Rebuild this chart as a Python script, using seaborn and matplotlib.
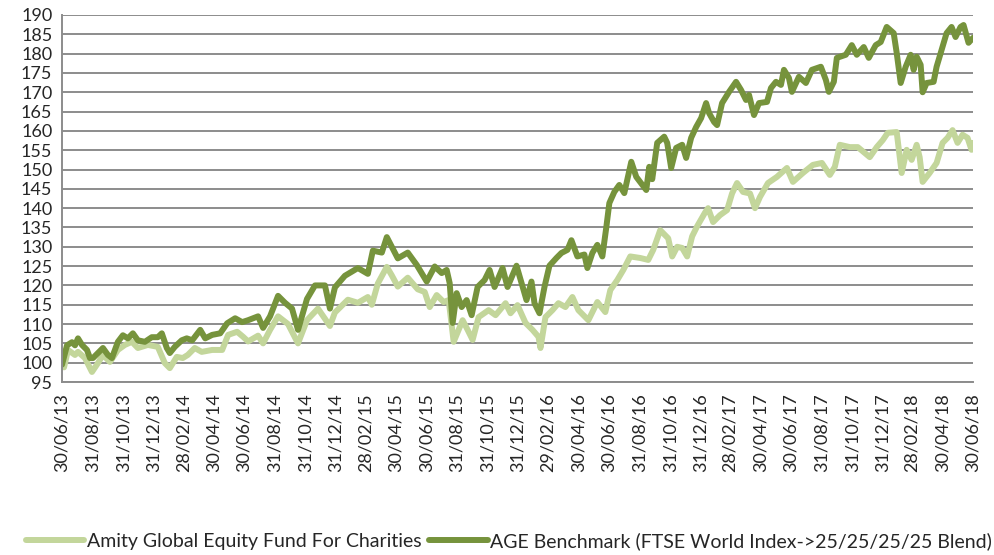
import pandas as pd
import matplotlib
matplotlib.use("Agg")
import matplotlib.pyplot as plt
import matplotlib.dates as mdates
import seaborn as sns

# Amity Global Equity Fund For Charities (rebased to 100)
fund_dates = [
    "2013-06-30", "2013-07-04", "2013-07-12", "2013-07-26", "2013-08-01", "2013-08-15",
    "2013-08-25", "2013-08-29", "2013-09-10", "2013-09-20", "2013-10-04", "2013-10-20",
    "2013-11-03", "2013-11-17", "2013-11-29", "2013-12-19", "2014-01-08", "2014-01-22",
    "2014-02-01", "2014-02-15", "2014-02-27", "2014-03-09", "2014-03-23", "2014-04-06",
    "2014-04-27", "2014-05-17", "2014-05-29", "2014-06-16", "2014-06-28", "2014-07-08",
    "2014-07-28", "2014-08-07", "2014-08-21", "2014-09-06", "2014-09-26", "2014-10-16",
    "2014-11-03", "2014-11-25", "2014-12-19", "2014-12-29", "2015-01-24", "2015-02-13",
    "2015-03-05", "2015-03-13", "2015-03-25", "2015-04-12", "2015-04-22", "2015-05-04",
    "2015-05-24", "2015-06-13", "2015-06-27", "2015-07-07", "2015-07-21", "2015-08-04",
    "2015-08-14", "2015-08-24", "2015-09-11", "2015-09-21", "2015-10-01", "2015-10-13",
    "2015-11-02", "2015-11-16", "2015-12-06", "2015-12-16", "2015-12-30", "2016-01-15",
    "2016-01-29", "2016-02-10", "2016-02-14", "2016-02-24", "2016-03-09", "2016-03-21",
    "2016-04-04", "2016-04-18", "2016-04-30", "2016-05-20", "2016-06-07", "2016-06-23",
    "2016-07-03", "2016-07-17", "2016-07-29", "2016-08-12", "2016-09-01", "2016-09-17",
    "2016-09-27", "2016-10-11", "2016-10-27", "2016-11-04", "2016-11-14", "2016-11-24",
    "2016-12-04", "2016-12-14", "2016-12-24", "2017-01-09", "2017-01-15", "2017-01-25",
    "2017-02-08", "2017-02-22", "2017-03-04", "2017-03-14", "2017-03-26", "2017-04-09",
    "2017-04-19", "2017-04-29", "2017-05-15", "2017-06-02", "2017-06-22", "2017-07-04",
    "2017-07-24", "2017-08-13", "2017-08-31", "2017-09-16", "2017-09-26", "2017-10-06",
    "2017-10-26", "2017-11-11", "2017-12-05", "2017-12-19", "2017-12-31", "2018-01-10",
    "2018-01-28", "2018-02-07", "2018-02-17", "2018-02-27", "2018-03-09", "2018-03-15",
    "2018-03-21", "2018-04-04", "2018-04-18", "2018-04-30", "2018-05-10", "2018-05-20",
    "2018-05-30", "2018-06-09", "2018-06-19", "2018-06-27", "2018-06-30",
]
fund_values = [
    99.0, 98.8, 103.3, 102.0, 102.8, 101.2,
    98.6, 97.6, 99.9, 102.0, 100.2, 103.3,
    104.6, 105.4, 103.8, 104.6, 104.1, 99.9,
    98.6, 101.5, 101.2, 102.0, 103.8, 102.8,
    103.3, 103.3, 107.2, 108.0, 106.7, 105.5,
    107.0, 105.0, 108.5, 112.0, 110.0, 105.0,
    111.0, 114.0, 109.5, 113.0, 116.3, 115.5,
    117.0, 115.0, 120.5, 124.8, 122.6, 119.7,
    122.0, 119.0, 118.3, 114.4, 117.5, 115.7,
    116.2, 105.4, 111.0, 108.5, 105.9, 111.8,
    113.6, 112.3, 115.4, 112.8, 114.9, 110.3,
    108.5, 106.7, 103.8, 111.8, 113.6, 115.4,
    114.4, 117.0, 113.6, 111.0, 115.7, 113.1,
    118.8, 121.4, 124.0, 127.5, 127.1, 126.6,
    129.2, 134.3, 132.2, 127.5, 130.0, 129.7,
    127.5, 132.7, 135.3, 138.9, 140.0, 136.4,
    138.2, 139.5, 143.8, 146.5, 144.2, 143.8,
    140.0, 142.9, 146.5, 148.1, 150.4, 146.8,
    149.1, 151.2, 151.7, 148.6, 150.7, 156.4,
    155.8, 155.8, 153.2, 155.8, 157.6, 159.5,
    159.7, 149.1, 155.1, 152.5, 156.4, 153.2,
    146.8, 149.1, 151.7, 156.9, 158.2, 160.2,
    156.9, 159.0, 158.2, 155.1, 156.9,
]

# AGE Benchmark (FTSE World Index -> 25/25/25/25 Blend)
bench_dates = [
    "2013-06-30", "2013-07-10", "2013-07-20", "2013-07-26", "2013-08-01", "2013-08-09",
    "2013-08-19", "2013-08-25", "2013-08-31", "2013-09-10", "2013-09-20", "2013-09-30",
    "2013-10-08", "2013-10-20", "2013-10-30", "2013-11-09", "2013-11-19", "2013-11-29",
    "2013-12-13", "2013-12-27", "2014-01-08", "2014-01-16", "2014-01-26", "2014-02-01",
    "2014-02-11", "2014-02-25", "2014-03-07", "2014-03-18", "2014-04-03", "2014-04-13",
    "2014-04-27", "2014-05-13", "2014-05-27", "2014-06-12", "2014-06-26", "2014-07-08",
    "2014-07-28", "2014-08-07", "2014-08-21", "2014-09-06", "2014-09-20", "2014-10-04",
    "2014-10-16", "2014-11-03", "2014-11-19", "2014-12-09", "2014-12-19", "2014-12-29",
    "2015-01-18", "2015-02-13", "2015-03-05", "2015-03-15", "2015-04-02", "2015-04-12",
    "2015-04-22", "2015-05-04", "2015-05-24", "2015-06-11", "2015-07-01", "2015-07-17",
    "2015-07-31", "2015-08-10", "2015-08-16", "2015-08-22", "2015-08-30", "2015-09-09",
    "2015-09-19", "2015-09-29", "2015-10-11", "2015-10-25", "2015-11-04", "2015-11-14",
    "2015-11-30", "2015-12-10", "2015-12-28", "2016-01-07", "2016-01-17", "2016-01-27",
    "2016-02-02", "2016-02-12", "2016-02-22", "2016-03-03", "2016-03-17", "2016-03-27",
    "2016-04-08", "2016-04-16", "2016-04-28", "2016-05-12", "2016-05-18", "2016-05-28",
    "2016-06-07", "2016-06-17", "2016-06-25", "2016-07-01", "2016-07-11", "2016-07-21",
    "2016-07-31", "2016-08-14", "2016-08-24", "2016-09-13", "2016-09-19", "2016-09-25",
    "2016-10-05", "2016-10-19", "2016-10-25", "2016-11-02", "2016-11-12", "2016-11-24",
    "2016-12-02", "2016-12-12", "2016-12-22", "2017-01-01", "2017-01-11", "2017-01-17",
    "2017-01-27", "2017-02-02", "2017-02-12", "2017-02-26", "2017-03-12", "2017-03-22",
    "2017-04-01", "2017-04-07", "2017-04-17", "2017-04-27", "2017-05-13", "2017-05-21",
    "2017-05-31", "2017-06-10", "2017-06-16", "2017-06-26", "2017-07-02", "2017-07-16",
    "2017-07-30", "2017-08-11", "2017-08-29", "2017-09-08", "2017-09-14", "2017-09-24",
    "2017-09-30", "2017-10-18", "2017-10-30", "2017-11-09", "2017-11-23", "2017-12-03",
    "2017-12-17", "2017-12-27", "2018-01-08", "2018-01-22", "2018-01-28", "2018-02-05",
    "2018-02-15", "2018-02-25", "2018-03-03", "2018-03-09", "2018-03-17", "2018-03-21",
    "2018-03-29", "2018-04-12", "2018-04-18", "2018-04-28", "2018-05-08", "2018-05-18",
    "2018-05-26", "2018-06-05", "2018-06-11", "2018-06-21", "2018-06-30",
]
bench_values = [
    99.5, 104.5, 105.3, 104.5, 106.3, 104.6,
    103.3, 101.2, 101.2, 102.5, 103.8, 102.0,
    101.2, 105.4, 107.1, 106.3, 107.6, 105.8,
    105.4, 106.6, 106.6, 107.6, 103.8, 102.5,
    104.1, 105.8, 106.3, 105.8, 108.5, 106.3,
    107.2, 107.6, 110.2, 111.5, 110.5, 111.0,
    112.0, 109.0, 112.0, 117.3, 115.5, 114.0,
    108.5, 116.5, 120.0, 120.0, 114.0, 119.5,
    122.5, 124.5, 123.0, 129.0, 128.5, 132.5,
    130.0, 127.0, 128.5, 125.3, 121.0, 124.9,
    123.2, 124.0, 120.6, 110.3, 118.0, 114.4,
    116.2, 112.3, 119.6, 121.4, 124.0, 119.6,
    124.5, 119.6, 125.1, 120.7, 116.2, 121.0,
    115.4, 112.8, 119.6, 125.1, 127.1, 128.4,
    129.2, 131.7, 127.5, 128.0, 124.5, 128.4,
    130.5, 127.5, 135.1, 141.3, 144.2, 146.0,
    143.9, 152.0, 148.1, 144.7, 150.7, 147.5,
    156.9, 158.5, 156.9, 150.4, 155.6, 156.4,
    153.0, 158.2, 161.0, 163.3, 167.2, 164.6,
    162.3, 161.5, 167.2, 170.1, 172.7, 170.6,
    168.0, 169.3, 164.1, 167.2, 167.5, 171.1,
    172.7, 171.9, 175.8, 173.7, 170.1, 174.0,
    172.4, 175.8, 176.6, 173.2, 170.1, 172.7,
    178.9, 179.7, 182.2, 179.7, 181.7, 178.9,
    182.2, 183.0, 186.9, 185.3, 180.2, 172.4,
    176.6, 179.7, 175.8, 179.2, 177.1, 170.0,
    172.4, 172.7, 176.6, 181.0, 185.3, 186.9,
    184.3, 186.9, 187.4, 182.8, 184.1,
]

fund_label = "Amity Global Equity Fund For Charities"
bench_label = "AGE Benchmark (FTSE World Index->25/25/25/25 Blend)"

fund = pd.DataFrame({"date": pd.to_datetime(fund_dates), "value": fund_values})
bench = pd.DataFrame({"date": pd.to_datetime(bench_dates), "value": bench_values})

sns.set_style("white")
plt.rcParams["font.family"] = ["Lato", "DejaVu Sans"]

fig = plt.figure(figsize=(9.94, 5.55), dpi=100)
ax = fig.add_axes([0.0624, 0.3117, 0.9165, 0.6613])

grid_col = "#8c8c8c"
ax.set_axisbelow(True)
ax.yaxis.grid(True, color=grid_col, linewidth=1.4)

sns.lineplot(data=fund, x="date", y="value", ax=ax, color="#c3d69b",
             linewidth=4.3, label=fund_label, solid_capstyle="round", solid_joinstyle="round")
sns.lineplot(data=bench, x="date", y="value", ax=ax, color="#76933c",
             linewidth=4.3, label=bench_label, solid_capstyle="round", solid_joinstyle="round")

ax.set_xlim(pd.Timestamp("2013-06-30"), pd.Timestamp("2018-06-30"))
ax.set_ylim(95, 190)
ax.set_yticks(range(95, 191, 5))
ticks = pd.date_range("2013-06-30", "2018-06-30", freq="2ME")
ax.set_xticks(ticks)
ax.xaxis.set_major_formatter(mdates.DateFormatter("%d/%m/%y"))
ax.tick_params(axis="x", rotation=90, labelsize=13, length=5, width=1.4,
               color=grid_col, direction="out", pad=3)
ax.tick_params(axis="y", labelsize=13, length=5, width=1.4, color=grid_col,
               direction="out", pad=2)
ax.set_xlabel("")
ax.set_ylabel("")

for side in ["top", "right"]:
    ax.spines[side].set_visible(False)
for side in ["left", "bottom"]:
    ax.spines[side].set_color(grid_col)
    ax.spines[side].set_linewidth(1.4)

ax.legend_.remove()
handles, labels = ax.get_legend_handles_labels()
fig.legend(handles, labels, loc="lower center", bbox_to_anchor=(0.512, -0.022), ncol=2,
           frameon=False, fontsize=14, handlelength=3.0, handletextpad=0.15,
           columnspacing=0.4)

fig.savefig("out.png", dpi=100)
